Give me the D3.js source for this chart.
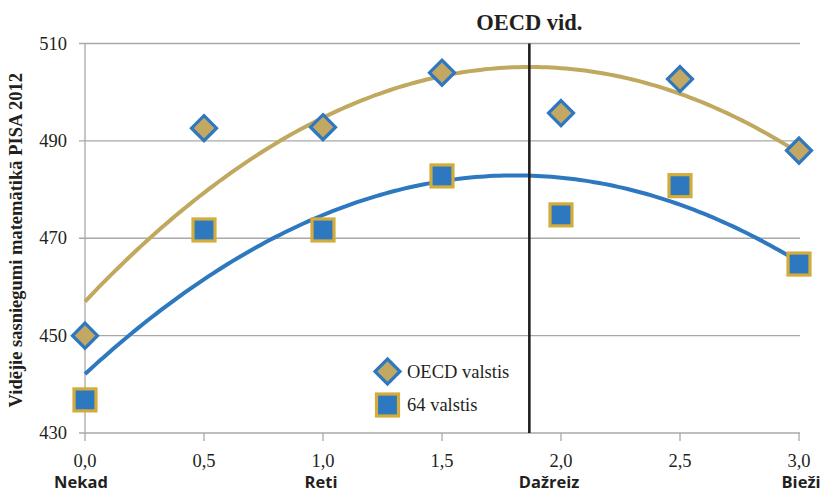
<!DOCTYPE html>
<html>
<head>
<meta charset="utf-8">
<script src="https://cdn.jsdelivr.net/npm/d3@7"></script>
<style>
  body { margin: 0; background: #fff; }
  svg { display: block; }
  .serif { font-family: "Liberation Serif", "DejaVu Serif", serif; }
  .sans { font-family: "Open Sans", "Liberation Sans", sans-serif; }
</style>
</head>
<body>
<svg id="chart" width="821" height="492"></svg>
<script>
// ---- data ----
const xValues = [0, 0.5, 1, 1.5, 2, 2.5, 3];
const oecdValues = [450, 492.6, 492.8, 504, 495.7, 502.7, 488];
const allValues = [436.8, 471.7, 471.7, 482.8, 474.8, 480.8, 464.7];
// quadratic trend coefficients [c0, c1, c2] as drawn in the original
const oecdTrend = [457, 51.57, -13.8];
const allTrend = [442.1, 45.17, -12.5];
const yTicks = [430, 450, 470, 490, 510];
const xTicks = [0, 0.5, 1, 1.5, 2, 2.5, 3];
const categories = ["Nekad", "Reti", "Dažreiz", "Bieži"];
const categoryX = [0, 1, 2, 3];
const oecdAvgX = 1.867;
const seriesNames = ["OECD valstis", "64 valstis"];
const yTitle = "Vidējie sasniegumi matemātikā PISA 2012";
const refTitle = "OECD vid.";

// ---- layout ----
const svg = d3.select("#chart");
const x = d3.scaleLinear().domain([0, 3]).range([85, 799]);
const y = d3.scaleLinear().domain([430, 510]).range([433, 43.5]);

const gold = "#C2A862";
const goldLine = "#C0A85E";
const blue = "#2E78C0";
const squareBorder = "#D4AC3C";
const grid = "#A8A8A8";

// gridlines
svg.append("g").selectAll("line").data(yTicks).join("line")
  .attr("x1", 79).attr("x2", 800)
  .attr("y1", d => y(d)).attr("y2", d => y(d))
  .attr("stroke", grid).attr("stroke-width", 1.3);

// y axis line
svg.append("line").attr("x1", x(0)).attr("x2", x(0))
  .attr("y1", y(510)).attr("y2", 441)
  .attr("stroke", grid).attr("stroke-width", 1.3);

// x tick marks
svg.append("g").selectAll("line").data(xTicks.slice(1)).join("line")
  .attr("x1", d => x(d)).attr("x2", d => x(d))
  .attr("y1", y(430)).attr("y2", 441)
  .attr("stroke", grid).attr("stroke-width", 1.3);

// y tick labels
svg.append("g").selectAll("text").data(yTicks).join("text")
  .attr("class", "serif")
  .attr("x", 67).attr("y", d => y(d) + 6)
  .attr("text-anchor", "end")
  .attr("font-size", 18.5).attr("fill", "#231F20")
  .text(d => d);

// x tick labels
svg.append("g").selectAll("text").data(xTicks).join("text")
  .attr("class", "serif")
  .attr("x", d => x(d)).attr("y", 467)
  .attr("text-anchor", "middle")
  .attr("font-size", 18.5).attr("fill", "#231F20")
  .text(d => d3.format(".1f")(d).replace(".", ","));

// category labels
const catOffset = [-4, -2, -12, 2];
svg.append("g").selectAll("text").data(categories).join("text")
  .attr("class", "sans")
  .attr("x", (d, i) => x(categoryX[i]) + catOffset[i]).attr("y", 488)
  .attr("text-anchor", "middle")
  .attr("font-size", 16.5).attr("font-weight", "bold").attr("fill", "#231F20")
  .text(d => d);

// y title
svg.append("text")
  .attr("class", "serif")
  .attr("transform", `translate(22, ${y(470) + 2}) rotate(-90)`)
  .attr("text-anchor", "middle")
  .attr("font-size", 18.5).attr("font-weight", "bold").attr("fill", "#231F20")
  .text(yTitle);

// trend curves
const samples = d3.range(0, 3.0001, 0.02);
const poly = (c, t) => c[0] + c[1] * t + c[2] * t * t;
const line = d3.line().x(d => x(d[0])).y(d => y(d[1]));
svg.append("path")
  .datum(samples.map(t => [t, poly(oecdTrend, t)]))
  .attr("d", line).attr("fill", "none")
  .attr("stroke", goldLine).attr("stroke-width", 4);
svg.append("path")
  .datum(samples.map(t => [t, poly(allTrend, t)]))
  .attr("d", line).attr("fill", "none")
  .attr("stroke", blue).attr("stroke-width", 4);

// OECD average vertical line
svg.append("line")
  .attr("x1", x(oecdAvgX)).attr("x2", x(oecdAvgX))
  .attr("y1", y(510)).attr("y2", y(430))
  .attr("stroke", "#231F20").attr("stroke-width", 2.6);
svg.append("text")
  .attr("class", "serif")
  .attr("x", x(oecdAvgX)).attr("y", 30)
  .attr("text-anchor", "middle")
  .attr("font-size", 22.5).attr("font-weight", "bold").attr("fill", "#231F20")
  .text(refTitle);

// markers
function diamond(g, cx, cy) {
  const r = 12.5;
  g.append("path")
    .attr("d", `M${cx},${cy - r}L${cx + r},${cy}L${cx},${cy + r}L${cx - r},${cy}Z`)
    .attr("fill", gold).attr("stroke", blue).attr("stroke-width", 3.2)
    .attr("stroke-linejoin", "miter");
}
function square(g, cx, cy) {
  const s = 22;
  g.append("rect")
    .attr("x", cx - s / 2).attr("y", cy - s / 2)
    .attr("width", s).attr("height", s)
    .attr("fill", blue).attr("stroke", squareBorder).attr("stroke-width", 3.2);
}
const gm = svg.append("g");
xValues.forEach((v, i) => diamond(gm, x(v), y(oecdValues[i])));
xValues.forEach((v, i) => square(gm, x(v), y(allValues[i])));

// legend
const lg = svg.append("g");
diamond(lg, 387.5, 371.5);
square(lg, 387.5, 405);
lg.selectAll("text").data(seriesNames).join("text")
  .attr("class", "serif")
  .attr("x", 407).attr("y", (d, i) => 377.5 + i * 33.5)
  .attr("font-size", 18.5).attr("fill", "#231F20")
  .text(d => d);
</script>
</body>
</html>
